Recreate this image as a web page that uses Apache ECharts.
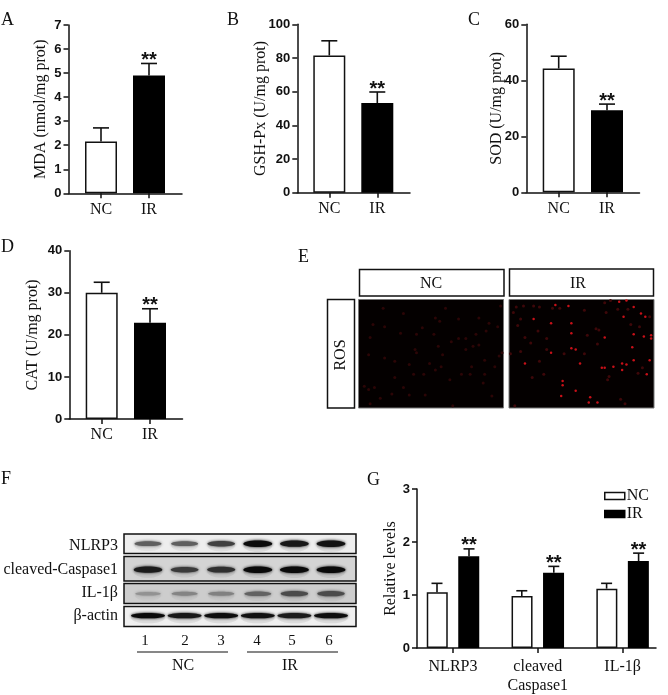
<!DOCTYPE html>
<html><head><meta charset="utf-8">
<style>html,body{margin:0;padding:0;background:#fff}#c{width:668px;height:695px}</style>
<script src="https://cdn.jsdelivr.net/npm/echarts@6/dist/echarts.min.js"></script>
</head><body><div id="c"></div>
<script>
// ---- data ----
const groups = ['NC', 'IR'];
const mdaValues = [2.15, 4.9],  mdaUpper = [2.72, 5.4];
const gshValues = [81.5, 53.2], gshUpper = [90.2, 59.8];
const sodValues = [44.2, 29.3], sodUpper = [48.6, 31.5];
const catValues = [30, 22.9],   catUpper = [32.5, 26.2];

const proteins = ['NLRP3', 'cleaved\nCaspase1', 'IL-1β'];
const ncLevels = [1.05, 0.98, 1.12], ncLevelsUpper = [1.22, 1.08, 1.22];
const irLevels = [1.73, 1.42, 1.64], irLevelsUpper = [1.87, 1.54, 1.79];

const blotProteins = ['NLRP3', 'cleaved-Caspase1', 'IL-1β', 'β-actin'];
const lanes = [1, 2, 3, 4, 5, 6];
const blotNLRP3   = [0.5, 0.5, 0.68, 1, 0.92, 0.95];
const blotCaspase = [0.9, 0.72, 0.78, 1, 1, 1];
const blotIL1b    = [0.2, 0.28, 0.3, 0.48, 0.62, 0.62];
const blotActin   = [1, 0.92, 0.98, 0.96, 0.9, 0.98];
const blotBackground = ['#eeeeee', '#d4d4d4', '#cdcdcd', '#f0f0f0'];

// ROS micrograph spots, [x %, y %] of each image
const rosNCFaint = [[69,18],[56,20],[40,32],[52,32],[39,46],[40,49],[25,57],[35,60],[58,51],[96,25],[90,22],[88,29],[83,17],[78,62],[57,62],[29,31],[18,25],[10,23],[8,35],[31,13],[17,8],[60,8],[53,17],[98,6],[69,36],[74,36],[81,32],[55,43],[83,42],[97,52],[99,49],[4,80],[7,83],[25,72],[38,69],[45,69],[53,65],[63,74],[71,69],[77,69],[86,77],[87,69],[92,89],[15,91],[8,96],[23,87],[35,88],[46,88],[65,98],[31,81],[11,81],[49,59],[74,46],[18,54],[7,51],[44,26],[64,39],[79,43],[87,56],[94,62]];
const rosIRBright = [[32,5],[81,1],[76,2],[41,6],[86,7],[79,16],[91,13],[94,16],[17,18],[43,22],[43,31],[66,35],[86,32],[93,34],[98,33],[98,36],[29,22],[43,45],[46,46],[29,49],[85,44],[97,56],[86,56],[66,63],[64,63],[78,59],[95,69],[37,79],[36,89],[46,84],[56,90],[55,95],[61,95],[11,59],[78,65],[81,60],[72,62],[49,59],[37,75]];
const rosIRFaint = [[70,1],[66,3],[30,8],[10,6],[17,6],[21,7],[35,8],[52,10],[67,12],[75,9],[82,9],[97,16],[84,23],[90,25],[62,28],[26,36],[20,29],[11,35],[15,40],[26,46],[1,50],[8,48],[21,57],[24,69],[16,72],[68,74],[69,71],[52,50],[61,41],[4,98],[77,92],[80,96],[38,50],[54,33],[60,27],[8,18],[6,24],[5,7],[92,63],[89,68],[3,12]];

// ---- helpers ----
const SERIF = '"Liberation Serif","Times New Roman",serif';
const SANS = '"Liberation Sans",Arial,sans-serif';
const INK = '#111';
const panels = [
  {key:'MDA', name:'MDA (nmol/mg prot)',    v:mdaValues, u:mdaUpper, max:7,   step:1,  ax:68.5,  xe:182, top:25,    bot:193.3, nc:101,   ir:149,   gap:20},
  {key:'GSH', name:'GSH-Px (U/mg prot)',    v:gshValues, u:gshUpper, max:100, step:20, ax:297.3, xe:410, top:24.3,  bot:192.7, nc:329.3, ir:377.3, gap:29},
  {key:'SOD', name:'SOD (U/mg prot)',       v:sodValues, u:sodUpper, max:60,  step:20, ax:526.3, xe:639.5, top:24.3,bot:192.3, nc:558.7, ir:607,   gap:22},
  {key:'CAT', name:'CAT (U/mg prot)',       v:catValues, u:catUpper, max:40,  step:10, ax:69.3,  xe:182.5, top:250.7,bot:419,  nc:101.7, ir:150,   gap:29}
];
const grid = [], xAxis = [], yAxis = [], series = [];

function errorSeries(name, gridIdx, xs, upper, base, capW, offset, stars) {
  return {
    type:'custom', name, xAxisIndex:gridIdx, yAxisIndex:gridIdx, silent:true, z:1,
    data: xs.map((x,i)=>[x, upper[i], base[i], stars[i]]),
    renderItem(params, api){
      const p = api.coord([api.value(0), api.value(1)]);
      const b = api.coord([api.value(0), api.value(2)]);
      const x = p[0] + offset, st = {stroke:INK, lineWidth:1.6};
      const kids = [
        {type:'line', shape:{x1:x,y1:b[1],x2:x,y2:p[1]}, style:st},
        {type:'line', shape:{x1:x-capW/2,y1:p[1],x2:x+capW/2,y2:p[1]}, style:st}
      ];
      if (api.value(3)) kids.push({type:'text', x:x, y:p[1]-13, z2:5,
        style:{text:'**', font:'bold 20px '+SANS, fill:INK, align:'center', verticalAlign:'top'}});
      return {type:'group', children:kids};
    }
  };
}
const tickLabel = {color:INK, fontFamily:SANS, fontWeight:'bold', fontSize:13, margin:7};
const axisLine = {show:true, onZero:false, lineStyle:{color:INK, width:1.5}};

panels.forEach((p,i)=>{
  const dx = p.ir - p.nc;
  grid.push({left:p.ax, top:p.top, width:p.xe-p.ax, height:p.bot-p.top});
  xAxis.push({type:'value', gridIndex:i, min:(p.ax-p.nc)/dx, max:(p.xe-p.nc)/dx, splitLine:{show:false},
    axisLine, axisTick:{show:true, length:5, lineStyle:{color:INK,width:1.5}, customValues:[0,1]},
    axisLabel:{customValues:[0,1], formatter:v=>groups[v], color:INK, fontFamily:SERIF, fontSize:16, margin:8}});
  yAxis.push({type:'value', gridIndex:i, min:0, max:p.max, interval:p.step, splitLine:{show:false},
    axisLine, axisTick:{show:true, length:5, lineStyle:{color:INK,width:1.5}}, axisLabel:tickLabel,
    name:p.name, nameLocation:'middle', nameGap:p.gap, nameMoveOverlap:false,
    nameTextStyle:{color:INK, fontFamily:SERIF, fontSize:16}});
  series.push({type:'bar', name:p.key, xAxisIndex:i, yAxisIndex:i, barWidth:32, silent:true, z:2,
    data:[
      {value:[0,p.v[0]], itemStyle:{color:'#fff', borderColor:INK, borderWidth:1.5}},
      {value:[1,p.v[1]], itemStyle:{color:'#000', borderColor:'#000', borderWidth:1.5}}
    ]});
  series.push(errorSeries(p.key+' error', i, [0,1], p.u, p.v, 16, 0, [0,1]));
});

// ---- panel G ----
const G = 4, gx0 = 453, gdx = 84.8, gL = 417, gR = 656;
grid.push({left:gL, top:489, width:gR-gL, height:163});
xAxis.push({type:'value', gridIndex:G, min:(gL-gx0)/gdx, max:(gR-gx0)/gdx, splitLine:{show:false},
  axisLine, axisTick:{show:true, length:5, lineStyle:{color:INK,width:1.5}, customValues:[0,1,2]},
  axisLabel:{customValues:[0,1,2], formatter:v=>proteins[v], color:INK, fontFamily:SERIF, fontSize:16, lineHeight:19, margin:9}});
yAxis.push({type:'value', gridIndex:G, min:0, max:3, interval:1, splitLine:{show:false},
  axisLine, axisTick:{show:true, length:5, lineStyle:{color:INK,width:1.5}}, axisLabel:tickLabel,
  name:'Relative levels', nameLocation:'middle', nameGap:18, nameMoveOverlap:false,
  nameTextStyle:{color:INK, fontFamily:SERIF, fontSize:16}});
const gX = proteins.map((_,i)=>i);
series.push({type:'bar', name:'NC', xAxisIndex:G, yAxisIndex:G, barWidth:21, barGap:'50%', silent:true, z:2,
  itemStyle:{color:'#fff', borderColor:INK, borderWidth:1.5}, data:gX.map(i=>[i,ncLevels[i]])});
series.push({type:'bar', name:'IR', xAxisIndex:G, yAxisIndex:G, barWidth:21, silent:true, z:2,
  itemStyle:{color:'#000', borderColor:'#000', borderWidth:1.5}, data:gX.map(i=>[i,irLevels[i]])});
series.push(errorSeries('NC error', G, gX, ncLevelsUpper, ncLevels, 11, -16, [0,0,0]));
series.push(errorSeries('IR error', G, gX, irLevelsUpper, irLevels, 11, 16, [1,1,1]));

// ---- panel E: ROS micrographs ----
function rosImage(idx, left, faint, bright, fc){
  grid.push({left, top:299.5, width:145, height:108.5, show:true, backgroundColor:'#040000', borderColor:'#777', borderWidth:1});
  xAxis.push({type:'value', gridIndex:idx, min:0, max:100, show:false});
  yAxis.push({type:'value', gridIndex:idx, min:0, max:100, inverse:true, show:false});
  series.push({type:'scatter', name:'ROS faint '+idx, xAxisIndex:idx, yAxisIndex:idx, symbolSize:3, silent:true,
    itemStyle:{color:fc, opacity:1}, data:faint});
  if (bright.length) series.push({type:'scatter', name:'ROS bright '+idx, xAxisIndex:idx, yAxisIndex:idx, symbolSize:2.5, silent:true,
    itemStyle:{color:'#c81018', opacity:1}, data:bright});
}
rosImage(5, 358.5, rosNCFaint, [], '#2c0506');
rosImage(6, 509, rosIRFaint, rosIRBright, '#3e0709');

// ---- panel F: western blot, drawn from band intensities ----
const F = 7, fL = 124, fW = 232, lane1 = 148, laneDx = 36.6;
const rowSpans = [[534,553.5],[556.5,581],[583.5,603.5],[606.5,626.5]];
const rowBandY = [543.7, 569.7, 593.7, 615.7];
const blotRows = [blotNLRP3, blotCaspase, blotIL1b, blotActin];
grid.push({left:fL, top:534, width:fW, height:92.5});
xAxis.push({type:'value', gridIndex:F, min:1-(lane1-fL)/laneDx, max:1+(fL+fW-lane1)/laneDx, show:false});
yAxis.push({type:'value', gridIndex:F, min:534, max:626.5, inverse:true, show:false});
// row frames and backgrounds
series.push({type:'custom', name:'blot rows', xAxisIndex:F, yAxisIndex:F, silent:true, z:1,
  data: blotProteins.map((_,r)=>[r]),
  renderItem(params, api){
    const r = api.value(0), a = api.coord([1-(lane1-fL)/laneDx, rowSpans[r][0]]),
          b = api.coord([1+(fL+fW-lane1)/laneDx, rowSpans[r][1]]);
    return {type:'rect', shape:{x:a[0],y:a[1],width:b[0]-a[0],height:b[1]-a[1]},
      style:{fill:blotBackground[r], stroke:'#111', lineWidth:1.5}};
  }});
const bandData = [];
blotRows.forEach((row,r)=>row.forEach((v,l)=>bandData.push([lanes[l], rowBandY[r], v, r])));
series.push({type:'custom', name:'blot bands', xAxisIndex:F, yAxisIndex:F, silent:true, z:2,
  data: bandData,
  renderItem(params, api){
    const c = api.coord([api.value(0), api.value(1)]), v = api.value(2), r = api.value(3);
    const shade = Math.round(180 - 170*v), col = `rgb(${shade},${shade},${shade})`;
    const rx = r===3 ? 17 : 12.5+2*v, ry = r===3 ? 2.6 : 1.4+1.9*v;
    return {type:'group', children:[
      {type:'ellipse', shape:{cx:c[0],cy:c[1]+2,rx:rx,ry:ry+3},
        style:{fill:`rgba(110,110,110,${0.04+0.1*v})`, shadowBlur:5, shadowColor:'rgba(110,110,110,0.2)'}},
      {type:'ellipse', shape:{cx:c[0],cy:c[1],rx,ry},
        style:{fill:col, shadowBlur:3, shadowColor:col}}
    ]};
  }});

// ---- legend, letters and free text ----
const letters = [['A',1,20],['B',227,20],['C',468,20],['D',1,247],['E',298,257],['F',1,479],['G',367,480]];
const T = (text,x,y,o={},rotation=0) => ({type:'text', x, y, rotation, silent:true, z:10,
  style:Object.assign({text, font:'16px '+SERIF, fill:INK, align:'center', verticalAlign:'middle'}, o)});
const R = (x,y,w,h) => ({type:'rect', silent:true, z:10, shape:{x,y,width:w,height:h}, style:{fill:'#fff', stroke:INK, lineWidth:1.5}});
const L = (x1,x2,y) => ({type:'line', silent:true, z:10, shape:{x1,y1:y,x2,y2:y}, style:{stroke:INK, lineWidth:1.2}});
const laneLabelX = [145,185,221,257,292,329];
const graphic = [
  R(359.5,269.5,144.5,26.5), R(509.5,269,144,27), R(327.5,299.5,27,108.5),
  T(groups[0],431,284), T(groups[1],578,284),
  T('ROS',341,355,{},Math.PI/2),
  ...letters.map(l=>T(l[0],l[1],l[2],{font:'18px '+SERIF, align:'left'})),
  ...blotProteins.map((t,i)=>T(t,118,[546,570,593,615.5][i],{align:'right'})),
  ...lanes.map((n,i)=>T(String(n),laneLabelX[i],641,{font:'15px '+SERIF})),
  L(137,228,652), L(247,338,652),
  T(groups[0],183,666), T(groups[1],290,666)
];

const chart = echarts.init(document.getElementById('c'), null, {renderer:'canvas'});
chart.setOption({
  animation:false, backgroundColor:'#fff',
  grid, xAxis, yAxis, series, graphic,
  legend:{data:groups, icon:'rect', orient:'vertical', left:604, top:488, itemWidth:20, itemHeight:7, itemGap:2,
    itemStyle:{borderWidth:1.5},
    textStyle:{color:INK, fontFamily:SERIF, fontSize:16, padding:[0,0,0,-3]}, selectedMode:false, padding:0}
});
</script></body></html>
